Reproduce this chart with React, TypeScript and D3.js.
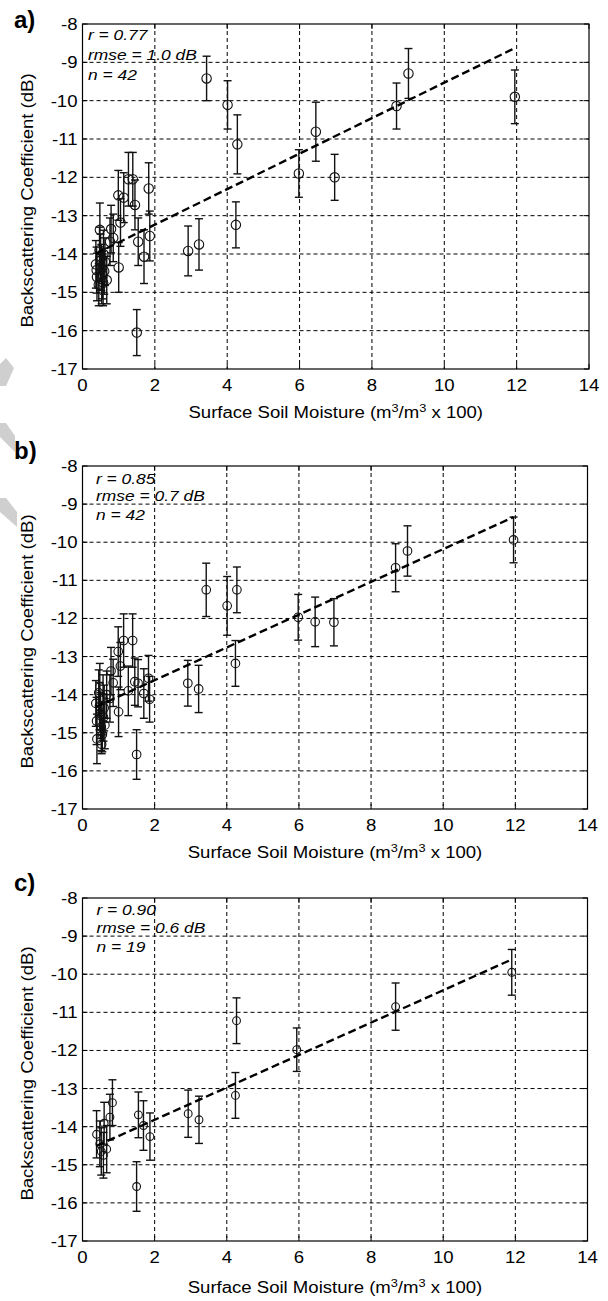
import React from "react";
import * as d3 from "d3";

// ---------- data ----------
const X_TICKS = [0, 2, 4, 6, 8, 10, 12, 14];
const Y_TICKS = [-8, -9, -10, -11, -12, -13, -14, -15, -16, -17];

// in-situ soil moisture shared by panels a) and b)
const xAB = [
  0.37, 0.39, 0.4, 0.45, 0.47, 0.48, 0.5, 0.52, 0.53, 0.55, 0.57, 0.58, 0.6, 0.62,
  0.67, 0.76, 0.79, 0.85, 0.99, 1.0, 1.05, 1.14, 1.27, 1.39, 1.45, 1.5, 1.54, 1.7,
  1.83, 1.86, 2.92, 3.22, 3.43, 4.01, 4.24, 4.28, 5.98, 6.45, 6.97, 8.68, 9.01, 11.95,
];
const yA = [
  -14.27, -14.42, -14.6, -14.8, -13.9, -13.37, -14.1, -14.35, -14.65, -14.55, -14.75, -14.0, -14.45, -14.2,
  -14.68, -13.68, -13.35, -13.58, -12.47, -14.35, -13.18, -12.53, -12.05, -12.05, -12.72, -16.05, -13.68, -14.07,
  -12.29, -13.53, -13.92, -13.75, -9.42, -10.11, -13.24, -11.14, -11.9, -10.81, -12.0, -10.14, -9.29, -9.9,
];
const eA = [
  0.62, 0.6, 0.62, 0.55, 0.6, 0.7, 0.62, 0.6, 0.65, 0.62, 0.6, 0.62, 0.6, 0.62,
  0.62, 0.62, 0.62, 0.62, 0.65, 0.65, 0.62, 0.65, 0.7, 0.7, 0.65, 0.6, 0.62, 0.7,
  0.67, 0.65, 0.65, 0.67, 0.58, 0.63, 0.6, 0.77, 0.62, 0.77, 0.6, 0.6, 0.65, 0.7,
];
const yB = [
  -14.23, -14.69, -15.16, -13.95, -14.3, -13.8, -14.55, -14.85, -15.3, -15.05, -14.1, -14.6, -14.35, -14.8,
  -14.0, -14.1, -13.38, -13.69, -12.87, -14.45, -13.25, -12.58, -13.9, -12.58, -13.66, -15.57, -13.7, -13.97,
  -13.57, -14.12, -13.7, -13.85, -11.25, -11.67, -13.18, -11.25, -11.97, -12.09, -12.1, -10.67, -10.23, -9.94,
];
const eB = [
  0.6, 0.62, 0.65, 0.6, 0.62, 0.62, 0.6, 0.62, 0.25, 0.45, 0.62, 0.62, 0.6, 0.62,
  0.62, 0.62, 0.62, 0.62, 0.65, 0.65, 0.62, 0.7, 0.65, 0.7, 0.62, 0.65, 0.62, 0.65,
  0.6, 0.6, 0.6, 0.62, 0.7, 0.77, 0.6, 0.6, 0.6, 0.65, 0.62, 0.63, 0.66, 0.6,
];

const xC = [0.39, 0.48, 0.52, 0.58, 0.6, 0.67, 0.76, 0.83, 1.5, 1.55, 1.69, 1.87, 2.93, 3.23, 4.24, 4.27, 5.94, 8.68, 11.9];
const yC = [-14.2, -14.45, -14.65, -14.75, -13.91, -14.59, -13.75, -13.37, -15.57, -13.69, -13.97, -14.26, -13.66, -13.82, -13.18, -11.22, -11.98, -10.85, -9.95];
const eC = [0.62, 0.6, 0.62, 0.6, 0.55, 0.62, 0.6, 0.6, 0.65, 0.6, 0.65, 0.62, 0.62, 0.62, 0.6, 0.6, 0.57, 0.62, 0.6];

const statsA = ["r = 0.77", "rmse = 1.0 dB", "n = 42"];
const statsB = ["r = 0.85", "rmse = 0.7 dB", "n = 42"];
const statsC = ["r = 0.90", "rmse = 0.6 dB", "n = 19"];

// linear fits: [slope, intercept]
const fitA = [0.463, -14.16];
const fitB = [0.43, -14.48];
const fitC = [0.425, -14.67];

const panelLabels = ["a)", "b)", "c)"];

// ---------- layout ----------
const FONT = "'Liberation Sans', Arial, Helvetica, sans-serif";
const STRETCH = 1.16;

const layouts = [
  { left: 82.5, right: 589, top: 24, bottom: 369, labelY: 28, statX: 88, statY: [40, 60, 80], r: 4.7, titleY: 418 },
  { left: 82.5, right: 587.5, top: 466, bottom: 809, labelY: 459, statX: 96, statY: [484, 501, 520], r: 4.3, titleY: 858 },
  { left: 82.5, right: 587.5, top: 898, bottom: 1241, labelY: 891, statX: 96.5, statY: [915, 933, 952], r: 3.9, titleY: 1293 },
];

const panelData = [
  { xs: xAB, ys: yA, es: eA, stats: statsA, fit: fitA },
  { xs: xAB, ys: yB, es: eB, stats: statsB, fit: fitB },
  { xs: xC, ys: yC, es: eC, stats: statsC, fit: fitC },
];

function T({ x, y, size, anchor, italic, rotate, children }: any) {
  return (
    <text
      transform={`translate(${x},${y})${rotate ? " rotate(-90)" : ""} scale(${STRETCH},1)`}
      textAnchor={anchor || "start"}
      fontFamily={FONT}
      fontStyle={italic ? "italic" : "normal"}
      fontSize={size}
      fill="#000"
    >
      {children}
    </text>
  );
}

function Panel({ idx }: { idx: number }) {
  const L = layouts[idx];
  const D = panelData[idx];
  const x = d3.scaleLinear().domain([0, 14]).range([L.left, L.right]);
  const y = d3.scaleLinear().domain([-17, -8]).range([L.bottom, L.top]);
  const xMin = d3.min(D.xs) as number;
  const xMax = d3.max(D.xs) as number;
  const line = d3
    .line<number>()
    .x((v) => x(v))
    .y((v) => y(D.fit[0] * v + D.fit[1]));
  const tick = 5;
  const cap = 4;
  return (
    <g>
      <text x={14} y={L.labelY} fontFamily={FONT} fontWeight="bold" fontSize={24} fill="#000">
        {panelLabels[idx]}
      </text>
      {/* grid */}
      {X_TICKS.slice(1, -1).map((t) => (
        <line key={"gx" + t} x1={x(t)} x2={x(t)} y1={L.top} y2={L.bottom} stroke="#000" strokeWidth={1} strokeDasharray="4,3" />
      ))}
      {Y_TICKS.slice(1, -1).map((t) => (
        <line key={"gy" + t} x1={L.left} x2={L.right} y1={y(t)} y2={y(t)} stroke="#000" strokeWidth={1} strokeDasharray="4,3" />
      ))}
      {/* box */}
      <rect x={L.left} y={L.top} width={L.right - L.left} height={L.bottom - L.top} fill="none" stroke="#000" strokeWidth={1.2} />
      {/* ticks */}
      {X_TICKS.map((t) => (
        <g key={"tx" + t}>
          <line x1={x(t)} x2={x(t)} y1={L.bottom} y2={L.bottom - tick} stroke="#000" />
          <line x1={x(t)} x2={x(t)} y1={L.top} y2={L.top + tick} stroke="#000" />
          <T x={x(t)} y={L.bottom + 22} size={16} anchor="middle">
            {t}
          </T>
        </g>
      ))}
      {Y_TICKS.map((t) => (
        <g key={"ty" + t}>
          <line x1={L.left} x2={L.left + tick} y1={y(t)} y2={y(t)} stroke="#000" />
          <line x1={L.right} x2={L.right - tick} y1={y(t)} y2={y(t)} stroke="#000" />
          <T x={L.left - 5} y={y(t) + 6} size={16} anchor="end">
            {t}
          </T>
        </g>
      ))}
      {/* error bars + markers */}
      {D.xs.map((xv, i) => {
        const px = x(xv);
        const yv = D.ys[i];
        const e = D.es[i];
        return (
          <g key={"p" + i}>
            <line x1={px} x2={px} y1={y(yv + e)} y2={y(yv - e)} stroke="#111" strokeWidth={1.4} />
            <line x1={px - cap} x2={px + cap} y1={y(yv + e)} y2={y(yv + e)} stroke="#111" strokeWidth={1.4} />
            <line x1={px - cap} x2={px + cap} y1={y(yv - e)} y2={y(yv - e)} stroke="#111" strokeWidth={1.4} />
            <circle cx={px} cy={y(yv)} r={L.r} fill="none" stroke="#111" strokeWidth={1.1} />
          </g>
        );
      })}
      {/* fit line */}
      <path d={line([xMin, xMax]) || ""} fill="none" stroke="#000" strokeWidth={2.4} strokeDasharray="8,4" />
      {/* stats */}
      {D.stats.map((s, i) => (
        <T key={"s" + i} x={L.statX} y={L.statY[i]} size={15} italic>
          {s}
        </T>
      ))}
      {/* axis titles */}
      <T x={(L.left + L.right) / 2} y={L.titleY} size={16} anchor="middle">
        Surface Soil Moisture (m
        <tspan dy={-6} fontSize={11}>3</tspan>
        <tspan dy={6}>/m</tspan>
        <tspan dy={-6} fontSize={11}>3</tspan>
        <tspan dy={6}> x 100)</tspan>
      </T>
      <T x={33} y={(L.top + L.bottom) / 2 + 4} size={16} anchor="middle" rotate>
        Backscattering Coefficient (dB)
      </T>
    </g>
  );
}

export default function App() {
  return (
    <div style={{ position: "absolute", left: 0, top: 0 }}>
      <svg width={608} height={1301} viewBox="0 0 608 1301" style={{ display: "block", background: "#fff" }}>
        <rect x={0} y={0} width={608} height={1301} fill="#fff" />
        {/* faint watermark fragments */}
        <polygon points="0,364 6,358 14,368 6,386 0,386" fill="#cfcfcf" />
        <polygon points="0,423 6,423 15,436 15,452 0,437" fill="#cfcfcf" />
        <polygon points="0,498 6,498 17,512 17,527 0,512" fill="#cfcfcf" />
        {[0, 1, 2].map((i) => (
          <Panel key={i} idx={i} />
        ))}
      </svg>
    </div>
  );
}
